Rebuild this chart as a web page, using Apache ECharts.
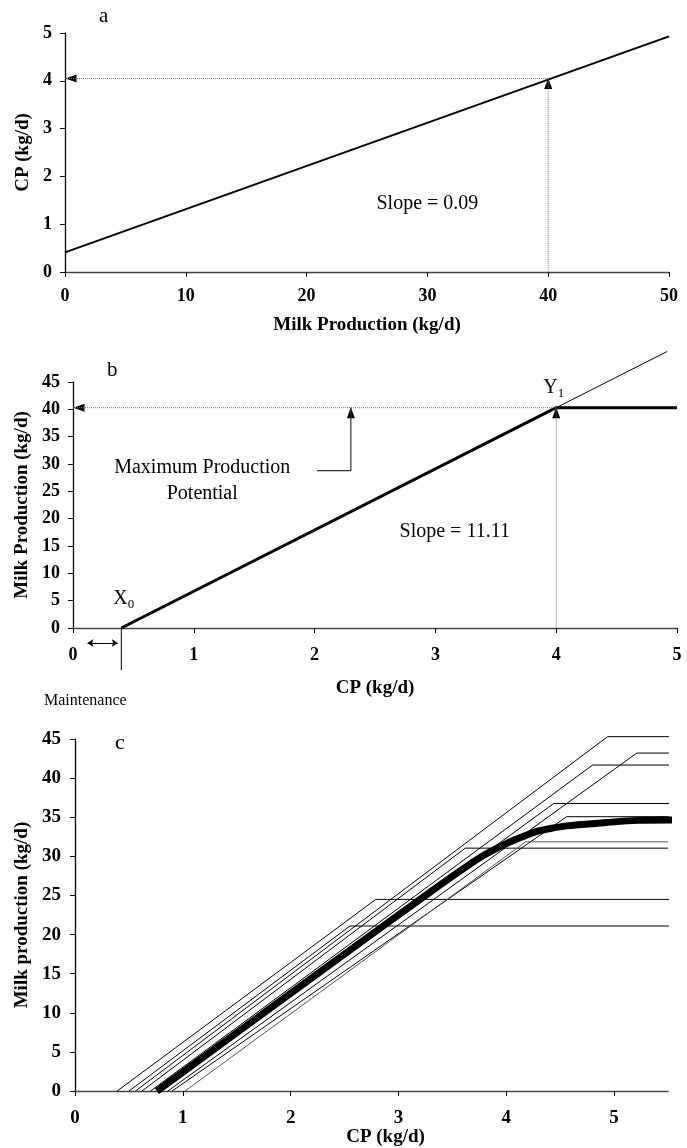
<!DOCTYPE html>
<html>
<head>
<meta charset="utf-8">
<script src="https://cdn.jsdelivr.net/npm/echarts@6/dist/echarts.min.js"></script>
<style>
html,body{margin:0;padding:0;background:#fff;}
#chart{width:687px;height:1148px;}
</style>
</head>
<body>
<div id="chart"></div>
<script>
// ---------- Panel a: CP requirement vs milk production ----------
const aMilk = [0, 50];
const aCP = [0.41, 4.93];
const aTargetMilk = 40;
const aTargetCP = 4.05;

// ---------- Panel b: milk production response to CP ----------
const bX0 = 0.4;          // maintenance CP
const bY1 = 40.3;         // maximum production potential
const bX1 = 4.0;          // CP at maximum
const bXEnd = 5.0;
const bThinEnd = [4.92, 50.6];
const bPointerPath = [[2.02, 28.8], [2.3, 28.8], [2.3, 40.3]];

// ---------- Panel c: individual cows and mean response ----------
const cStart   = [0.39, 0.50, 0.56, 0.62, 0.70, 0.78, 0.86, 0.90, 1.02];
const cCornerX = [2.79, 2.55, 4.94, 3.62, 4.80, 4.44, 5.21, 4.56, 4.18];
const cPlateau = [24.5, 21.1, 45.3, 31.05, 41.67, 36.76, 43.2, 35.07, 31.86];
const cEndX    = [5.52, 5.52, 5.58, 5.50, 5.56, 5.56, 5.56, 5.56, 5.50];
const cMeanX = [0.76, 2.2, 3.3, 3.62, 3.8, 3.99, 4.15, 4.3, 4.56, 4.91, 5.22, 5.56];
const cMeanY = [0, 14.5, 25.5, 28.6, 30.2, 31.56, 32.5, 33.25, 33.9, 34.3, 34.6, 34.65];

const FONT = '"Liberation Serif","Times New Roman",serif';

function valAxis(idx, min, max, interval, name, extra) {
  return Object.assign({
    type: 'value', gridIndex: idx, min: min, max: max, interval: interval,
    name: name, nameLocation: 'middle',
    nameTextStyle: {fontFamily: FONT, fontWeight: 'bold', fontSize: 19, color: '#000'},
    axisLine: {show: true, onZero: false, lineStyle: {color: '#000', width: 1.3}},
    axisTick: {show: true, length: 5, lineStyle: {color: '#000'}},
    axisLabel: {fontFamily: FONT, fontWeight: 'bold', fontSize: 18, color: '#000'},
    splitLine: {show: false}
  }, extra || {});
}
function lbl(size, margin, extra) {
  return Object.assign({fontFamily: FONT, fontWeight: 'bold', fontSize: size, color: '#000', margin: margin}, extra || {});
}
const xLine = {show: true, onZero: false, lineStyle: {color: '#444', width: 1.3}};

const series = [];

// Panel a
series.push({type: 'line', xAxisIndex: 0, yAxisIndex: 0, symbol: 'none',
  data: aMilk.map((m, i) => [m, aCP[i]]), lineStyle: {color: '#000', width: 2}});
series.push({type: 'line', xAxisIndex: 0, yAxisIndex: 0, symbol: 'none',
  data: [[0, aTargetCP], [aTargetMilk, aTargetCP], [aTargetMilk, 0]],
  lineStyle: {color: '#777', width: 1, type: 'dotted'}});
series.push({type: 'scatter', xAxisIndex: 0, yAxisIndex: 0, symbol: 'triangle',
  symbolSize: [8, 11], itemStyle: {color: '#000', opacity: 1},
  data: [
    {value: [aTargetMilk, aTargetCP], symbolRotate: 0, symbolOffset: [0, 5]},
    {value: [0, aTargetCP], symbolRotate: 90, symbolOffset: [6, 0]}
  ]});
series.push({type: 'scatter', xAxisIndex: 0, yAxisIndex: 0, symbolSize: 0,
  itemStyle: {opacity: 1},
  data: [[30, 1.43]],
  label: {show: true, position: 'inside', formatter: 'Slope = 0.09',
    fontFamily: FONT, fontSize: 20, color: '#000'}});

// Panel b
series.push({type: 'line', xAxisIndex: 1, yAxisIndex: 1, symbol: 'none', clip: false,
  data: [[bX0, 0], bThinEnd], lineStyle: {color: '#000', width: 1}});
series.push({type: 'line', xAxisIndex: 1, yAxisIndex: 1, symbol: 'none',
  data: [[bX0, 0], [bX1, bY1], [bXEnd, bY1]], lineStyle: {color: '#000', width: 3}});
series.push({type: 'line', xAxisIndex: 1, yAxisIndex: 1, symbol: 'none',
  data: [[0, bY1], [bX1, bY1], [bX1, 0]],
  lineStyle: {color: '#777', width: 1, type: 'dotted'}});
series.push({type: 'line', xAxisIndex: 1, yAxisIndex: 1, symbol: 'none',
  data: bPointerPath, lineStyle: {color: '#333', width: 1.2}});
series.push({type: 'line', xAxisIndex: 1, yAxisIndex: 1, symbol: 'none', clip: false,
  data: [[bX0, 0], [bX0, -7.7]], lineStyle: {color: '#000', width: 1}});
series.push({type: 'lines', coordinateSystem: 'cartesian2d', xAxisIndex: 1, yAxisIndex: 1,
  clip: false, symbol: ['arrow', 'arrow'], symbolSize: 6,
  lineStyle: {color: '#000', width: 1, opacity: 1},
  data: [{coords: [[0.12, -2.75], [0.37, -2.75]]}]});
series.push({type: 'scatter', xAxisIndex: 1, yAxisIndex: 1, symbol: 'triangle',
  symbolSize: [8, 11], itemStyle: {color: '#000', opacity: 1},
  data: [
    {value: [bX1, bY1], symbolRotate: 0, symbolOffset: [0, 5]},
    {value: [2.3, bY1], symbolRotate: 0, symbolOffset: [0, 5]},
    {value: [0, bY1], symbolRotate: 90, symbolOffset: [6, 0]}
  ]});
const richSub = {
  m: {fontFamily: FONT, fontSize: 20, color: '#000'},
  s: {fontFamily: FONT, fontSize: 13, color: '#000', padding: [12, 0, 0, 0]}
};
series.push({type: 'scatter', xAxisIndex: 1, yAxisIndex: 1, symbolSize: 0,
  itemStyle: {opacity: 1},
  data: [
    {value: [1.07, 29.3], label: {formatter: 'Maximum Production'}},
    {value: [1.07, 24.6], label: {formatter: 'Potential'}},
    {value: [3.16, 17.6], label: {formatter: 'Slope = 11.11'}},
    {value: [0.42, 5.4], label: {formatter: '{m|X}{s|0}', rich: richSub}},
    {value: [3.98, 43.9], label: {formatter: '{m|Y}{s|1}', rich: richSub}}
  ],
  label: {show: true, position: 'inside', fontFamily: FONT, fontSize: 20, color: '#000'}});

// Panel c
for (let i = 0; i < cStart.length; i++) {
  series.push({type: 'line', xAxisIndex: 2, yAxisIndex: 2, symbol: 'none', clip: false,
    data: [[cStart[i], 0], [cCornerX[i], cPlateau[i]], [cEndX[i], cPlateau[i]]],
    lineStyle: {color: i === 8 ? '#555' : '#000', width: 1}});
}
series.push({type: 'line', xAxisIndex: 2, yAxisIndex: 2, symbol: 'none', clip: false,
  smooth: 0.3,
  data: cMeanX.map((x, i) => [x, cMeanY[i]]), lineStyle: {color: '#000', width: 7}});

const option = {
  animation: false,
  backgroundColor: '#fff',
  grid: [
    {left: 65, top: 33, width: 604, height: 239},
    {left: 73, top: 382, width: 604, height: 246},
    {left: 75, top: 739, width: 593, height: 355}
  ],
  xAxis: [
    valAxis(0, 0, 50, 10, 'Milk Production (kg/d)', {nameGap: 44,
      axisLine: xLine, axisLabel: lbl(18, 15)}),
    valAxis(1, 0, 5, 1, 'CP (kg/d)', {nameGap: 51,
      axisLine: xLine, axisLabel: lbl(18, 18)}),
    valAxis(2, 0, 5.5, 1, 'CP (kg/d)', {nameGap: 34,
      nameTextStyle: {fontFamily: FONT, fontWeight: 'bold', fontSize: 19, color: '#000', padding: [0, 0, 0, 28]},
      axisLine: xLine,
      axisTick: {show: true, length: 5, lineStyle: {color: '#000'}, customValues: [0, 1, 2, 3, 4, 5]},
      axisLabel: lbl(19, 17, {customValues: [0, 1, 2, 3, 4, 5]})})
  ],
  yAxis: [
    valAxis(0, 0, 5, 1, 'CP (kg/d)', {nameGap: 31, axisLabel: lbl(18, 13)}),
    valAxis(1, 0, 45, 5, 'Milk Production (kg/d)', {nameGap: 38, axisLabel: lbl(18, 13)}),
    valAxis(2, 0, 45, 5, 'Milk production (kg/d)', {nameGap: 40, axisLabel: lbl(19, 14)})
  ],
  series: series,
  graphic: [
    {type: 'text', left: 99, top: 6, style: {text: 'a', font: '21px ' + FONT, fill: '#000'}},
    {type: 'text', left: 107, top: 360, style: {text: 'b', font: '21px ' + FONT, fill: '#000'}},
    {type: 'text', left: 115, top: 732, style: {text: 'c', font: '22px ' + FONT, fill: '#000'}},
    {type: 'text', left: 44, top: 693, style: {text: 'Maintenance', font: '16px ' + FONT, fill: '#000'}}
  ]
};

const chart = echarts.init(document.getElementById('chart'), null, {renderer: 'canvas'});
chart.setOption(option);
</script>
</body>
</html>
